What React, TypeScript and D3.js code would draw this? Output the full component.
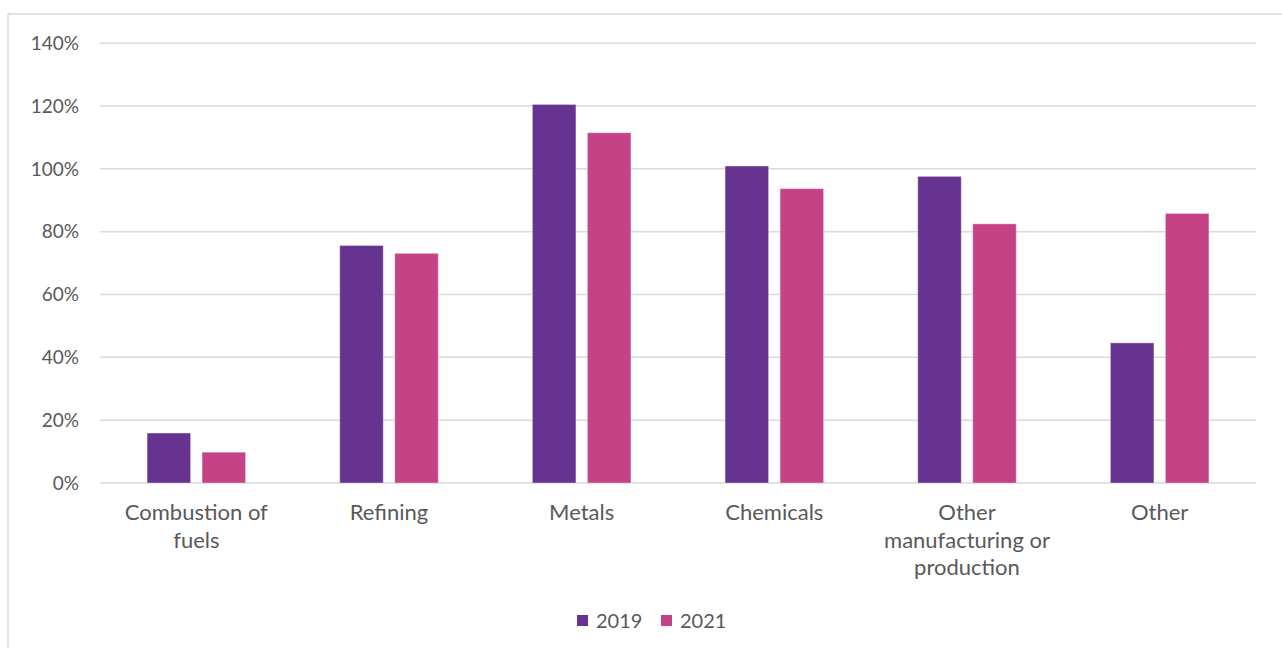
import React from "react";
import * as d3 from "d3";

const categories = [
  "Combustion of\nfuels",
  "Refining",
  "Metals",
  "Chemicals",
  "Other\nmanufacturing or\nproduction",
  "Other",
];
const seriesNames = ["2019", "2021"];
const values2019 = [0.159, 0.756, 1.205, 1.009, 0.976, 0.446];
const values2021 = [0.098, 0.731, 1.115, 0.937, 0.825, 0.858];
const yTicks = [0, 0.2, 0.4, 0.6, 0.8, 1.0, 1.2, 1.4];
const colors = ["#663390", "#C54287"];

const W = 1282;
const H = 648;
const FONT = "Lato, 'Open Sans', sans-serif";
const TEXT = "#595959";

export default function App() {
  const left = 100;
  const right = 1256;
  const groupW = 98.5;
  const x = d3.scaleBand<string>().domain(categories).range([left, right]).paddingInner(0).paddingOuter(0);
  const y = d3.scaleLinear().domain([0, 1.4]).range([483, 43.2]);
  const inner = d3.scaleBand<string>().domain(seriesNames).range([0, groupW]).paddingInner(0.209);
  const series = [values2019, values2021];
  const fmt = d3.format(".0%");

  return (
    <svg width={W} height={H} style={{ position: "absolute", left: 0, top: 0, background: "#fff" }}>
      <rect x={8} y={14} width={W + 10} height={H + 10} fill="#fff" stroke="#d9d9d9" strokeWidth={1.5} />
      {yTicks.map((t) => (
        <g key={t}>
          <line x1={left} x2={right} y1={y(t)} y2={y(t)} stroke="#d9d9d9" strokeWidth={1.5} />
          <text x={79} y={y(t)} dy="0.35em" textAnchor="end" fontFamily={FONT} fontSize={19} fill={TEXT}>
            {fmt(t)}
          </text>
        </g>
      ))}
      {categories.map((c, i) => {
        const cx = (x(c) as number) + x.bandwidth() / 2;
        const gx = cx - groupW / 2;
        return (
          <g key={c}>
            {series.map((vals, s) => (
              <rect
                key={s}
                x={gx + (inner(seriesNames[s]) as number)}
                y={y(vals[i])}
                width={inner.bandwidth()}
                height={y(0) - y(vals[i])}
                fill={colors[s]}
                stroke="rgba(255,255,255,0.35)"
                strokeWidth={1}
              />
            ))}
            {c.split("\n").map((line, li) => (
              <text key={li} x={cx} y={520 + li * 27.5} textAnchor="middle" fontFamily={FONT} fontSize={22} fill={TEXT}>
                {line}
              </text>
            ))}
          </g>
        );
      })}
      <g>
        {seriesNames.map((n, s) => {
          const lx = s === 0 ? 577 : 661;
          return (
            <g key={n}>
              <rect x={lx} y={615} width={11} height={11} fill={colors[s]} />
              <text x={lx + 19} y={621} dy="0.35em" fontFamily={FONT} fontSize={20} fill={TEXT}>
                {n}
              </text>
            </g>
          );
        })}
      </g>
    </svg>
  );
}
